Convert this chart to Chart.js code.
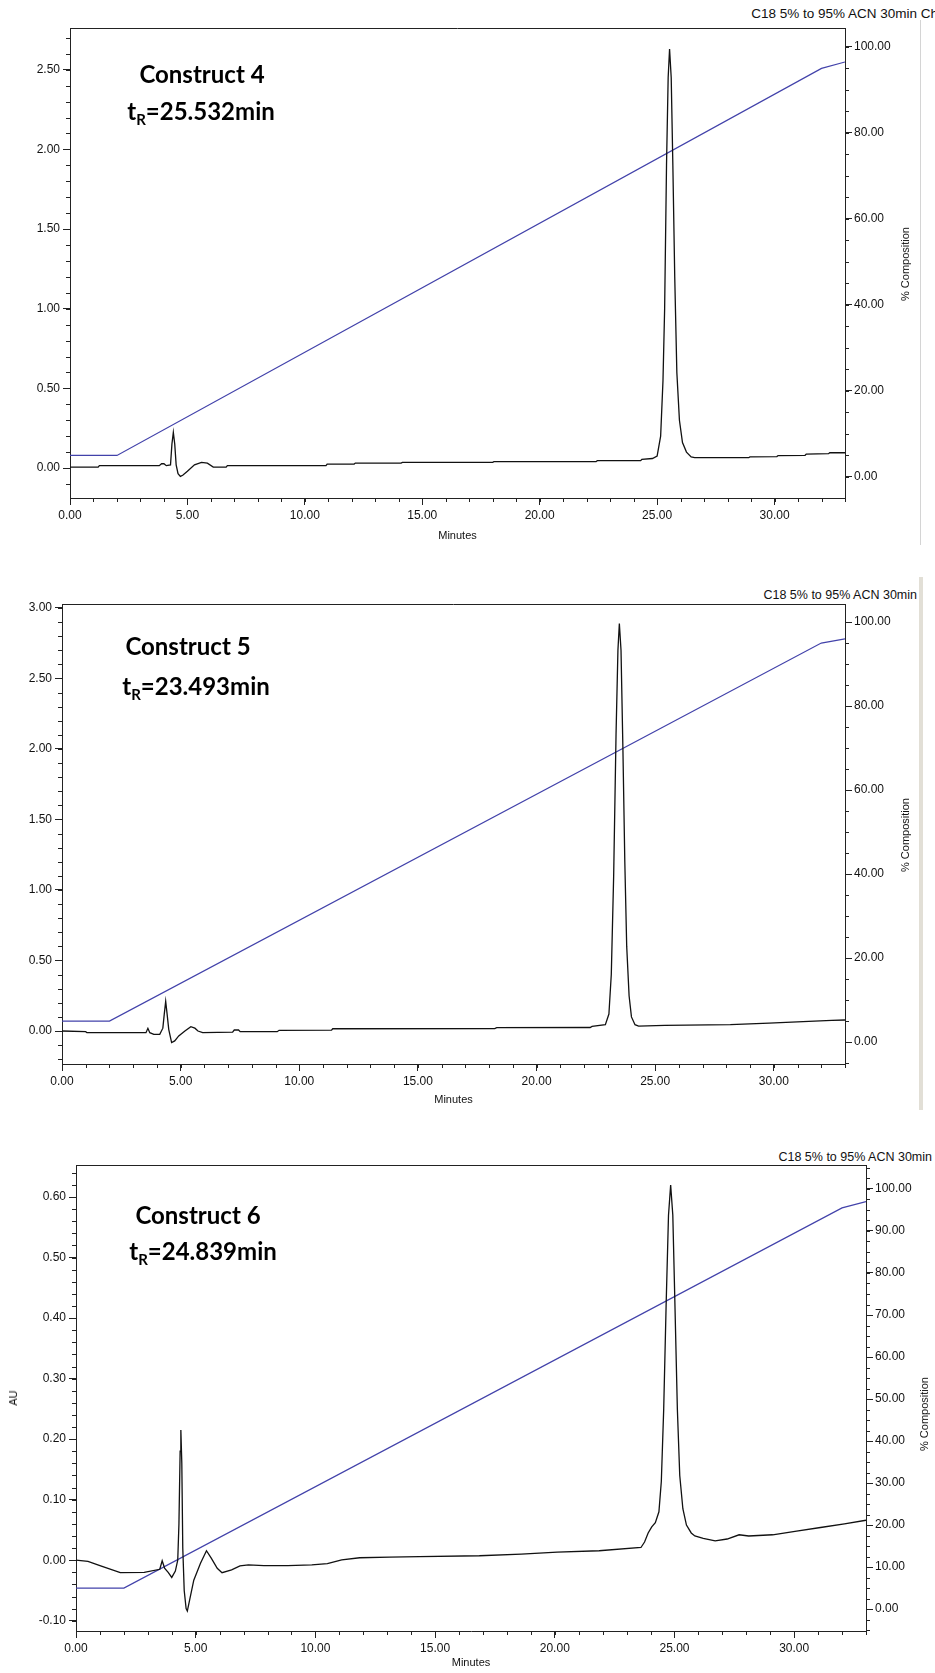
<!DOCTYPE html>
<html>
<head>
<meta charset="utf-8">
<title>HPLC traces - Constructs 4, 5, 6</title>
<script src="https://cdn.jsdelivr.net/npm/chart.js@4.4.1/dist/chart.umd.min.js"></script>
<style>
    body { margin: 0; background: #fff; }
    #page { position: relative; width: 935px; height: 1673px; overflow: hidden; font-family: 'Liberation Sans', Arial, sans-serif; }
    canvas { position: absolute; left: 0; }
    .hdr { position: absolute; font-size: 12.5px; line-height: 14px; color: #111; white-space: nowrap; }
    .ann { position: absolute; font: bold 24px Lato, 'Open Sans', sans-serif; color: #000; white-space: nowrap; transform: translate(-50%, -50%); }
    .ann sub { font-size: 15px; vertical-align: -5px; line-height: 0; }
    .vt { position: absolute; font-size: 11px; color: #111; white-space: nowrap; transform: translate(-50%, -50%) rotate(-90deg); }
    .edge { position: absolute; }
</style>
</head>
<body>
<div id="page">
    <div class="hdr" style="right:-3px; top:7px; font-size:13.5px">C18 5% to 95% ACN 30min Ch</div>
    <canvas id="chart-c4" width="935" height="544" style="top:0px"></canvas>
    <div class="ann" style="left:202px; top:73px">Construct 4</div>
    <div class="ann" style="left:201px; top:110px">t<sub>R</sub>=25.532min</div>
    <div class="vt" style="left:905px; top:264px">% Composition</div>
    <div class="edge" style="left:920px; top:20px; width:1px; height:525px; background:#d4d4d4"></div>

    <div class="hdr" style="right:18px; top:588px">C18 5% to 95% ACN 30min</div>
    <canvas id="chart-c5" width="935" height="548" style="top:560px"></canvas>
    <div class="ann" style="left:188px; top:645px">Construct 5</div>
    <div class="ann" style="left:196px; top:685px">t<sub>R</sub>=23.493min</div>
    <div class="vt" style="left:905px; top:835px">% Composition</div>
    <div class="edge" style="left:919px; top:577px; width:4px; height:533px; background:#e2dfd6"></div>

    <div class="hdr" style="right:3px; top:1150px">C18 5% to 95% ACN 30min</div>
    <canvas id="chart-c6" width="935" height="551" style="top:1120px"></canvas>
    <div class="ann" style="left:198px; top:1214px">Construct 6</div>
    <div class="ann" style="left:203px; top:1250px">t<sub>R</sub>=24.839min</div>
    <div class="vt" style="left:924px; top:1414px">% Composition</div>
    <div class="vt" style="left:13px; top:1398px">AU</div>
</div>

<script>
// Construct 4 trace (minutes, AU)
const c4Min = [0, 1.2, 1.25, 3.8, 3.9, 4.0, 4.1, 4.28, 4.34, 4.4, 4.46, 4.52, 4.6, 4.7, 4.8, 5.0, 5.3, 5.6, 5.85, 6.1,
    6.65, 6.7, 10.9, 10.95, 12.1, 12.15, 14.1, 14.15, 18.0, 18.05, 22.4, 22.45, 24.3, 24.35, 24.8, 25.0, 25.15, 25.25,
    25.32, 25.4, 25.47, 25.53, 25.6, 25.67, 25.75, 25.84, 25.95, 26.08, 26.25, 26.45, 26.6, 28.9, 28.95, 30.1, 30.15,
    31.3, 31.35, 32.3, 32.35, 33];
const c4AU = [0.006, 0.006, 0.015, 0.015, 0.027, 0.027, 0.015, 0.02, 0.15, 0.223, 0.15, 0.02, -0.035, -0.052, -0.045,
    -0.02, 0.02, 0.035, 0.031, 0.006, 0.006, 0.015, 0.015, 0.025, 0.025, 0.031, 0.031, 0.035, 0.036, 0.04, 0.04, 0.046,
    0.046, 0.055, 0.06, 0.075, 0.2, 0.55, 1.0, 1.9, 2.45, 2.63, 2.45, 1.9, 1.2, 0.6, 0.3, 0.16, 0.1, 0.07, 0.065, 0.065,
    0.07, 0.072, 0.078, 0.08, 0.088, 0.09, 0.096, 0.096];

// Construct 5 trace (minutes, AU)
const c5Min = [0, 1.0, 1.05, 3.54, 3.62, 3.7, 3.87, 4.12, 4.25, 4.31, 4.37, 4.43, 4.5, 4.62, 4.75, 4.92, 5.18, 5.43,
    5.6, 5.73, 5.93, 7.19, 7.26, 7.44, 7.51, 9.07, 9.15, 11.36, 11.41, 18.24, 18.32, 22.26, 22.34, 22.9, 23.05, 23.15,
    23.25, 23.35, 23.43, 23.49, 23.56, 23.64, 23.72, 23.8, 23.9, 24.0, 24.15, 24.3, 25.4, 28.17, 29.8, 31.23, 32.44, 33];
const c5AU = [0.0, -0.005, -0.012, -0.012, 0.019, -0.012, -0.024, -0.024, 0.02, 0.12, 0.21, 0.12, 0.01, -0.082, -0.07,
    -0.035, 0.0, 0.031, 0.02, 0.0, -0.012, -0.008, 0.007, 0.007, -0.005, -0.005, 0.005, 0.006, 0.016, 0.017, 0.024,
    0.025, 0.033, 0.045, 0.12, 0.4, 1.1, 2.1, 2.7, 2.89, 2.7, 2.0, 1.2, 0.6, 0.25, 0.1, 0.045, 0.035, 0.04, 0.045,
    0.056, 0.066, 0.075, 0.078];

// Construct 6 trace (minutes, AU)
const c6Min = [0, 0.5, 1.0, 1.85, 2.85, 3.5, 3.6, 3.7, 3.85, 4.0, 4.15, 4.25, 4.3, 4.35, 4.38, 4.42, 4.46, 4.52, 4.6,
    4.65, 4.75, 4.92, 5.2, 5.45, 5.65, 5.9, 6.1, 6.5, 6.85, 7.2, 7.85, 8.85, 9.85, 10.5, 11.1, 11.85, 13.1, 14.35,
    16.85, 18.6, 20.1, 21.85, 23.6, 23.75, 23.9, 24.05, 24.2, 24.35, 24.45, 24.55, 24.65, 24.75, 24.84, 24.93, 25.02,
    25.12, 25.22, 25.35, 25.5, 25.7, 25.85, 26.2, 26.7, 27.2, 27.7, 28.1, 29.1, 30.1, 31.1, 32.1, 33];
const c6AU = [0.0, -0.002, -0.009, -0.0207, -0.02, -0.015, -0.001, -0.013, -0.02, -0.0285, -0.018, 0.0, 0.06, 0.18,
    0.215, 0.16, 0.02, -0.05, -0.08, -0.084, -0.065, -0.033, -0.005, 0.0156, 0.0034, -0.0134, -0.0207, -0.016,
    -0.0095, -0.0078, -0.009, -0.009, -0.0078, -0.0056, 0.0006, 0.004, 0.005, 0.006, 0.0073, 0.01, 0.0134, 0.0156,
    0.021, 0.03, 0.045, 0.055, 0.062, 0.08, 0.13, 0.25, 0.42, 0.57, 0.62, 0.57, 0.42, 0.25, 0.14, 0.085, 0.058, 0.045,
    0.04, 0.036, 0.032, 0.035, 0.042, 0.04, 0.042, 0.048, 0.054, 0.06, 0.066];

// Gradient programme (% ACN)
const gradMin = [0, 2, 32, 33];
const c4Comp = [5, 5, 95, 96.5];
const c5Comp = [5, 5, 95, 96];
const c6Comp = [5, 5, 95.5, 97];

// Tick labels
const minuteTicks = [0, 5, 10, 15, 20, 25, 30];
const c4AUTicks = [0, 0.5, 1.0, 1.5, 2.0, 2.5];
const c5AUTicks = [0, 0.5, 1.0, 1.5, 2.0, 2.5, 3.0];
const c6AUTicks = [-0.1, 0, 0.1, 0.2, 0.3, 0.4, 0.5, 0.6];
const compTicks20 = [0, 20, 40, 60, 80, 100];
const compTicks10 = [0, 10, 20, 30, 40, 50, 60, 70, 80, 90, 100];

const AXIS = '#222';
const TRACE = '#111';
const GRADIENT = 'rgb(66, 66, 170)';

function toPoints(xs, ys) {
    return xs.map(function(x, i) { return { x: x, y: ys[i] }; });
}

// small unlabeled ticks between the labelled ones
const minorTicks = {
    id: 'minorTicks',
    afterDraw(chart, args, opts) {
        const ctx = chart.ctx;
        const len = opts.len || 4;
        ctx.save();
        ctx.strokeStyle = AXIS;
        ctx.lineWidth = 1;
        ctx.beginPath();
        ['x', 'y', 'y2'].forEach(function(id) {
            const scale = chart.scales[id];
            const step = opts[id];
            if (!scale || !step) return;
            const first = Math.ceil(scale.min / step - 1e-6);
            const last = Math.floor(scale.max / step + 1e-6);
            for (let k = first; k <= last; k++) {
                const px = Math.round(scale.getPixelForValue(k * step)) + 0.5;
                if (id === 'x') {
                    ctx.moveTo(px, scale.top);
                    ctx.lineTo(px, scale.top + len);
                } else if (id === 'y') {
                    ctx.moveTo(scale.right - len, px);
                    ctx.lineTo(scale.right, px);
                } else {
                    ctx.moveTo(scale.left, px);
                    ctx.lineTo(scale.left + len, px);
                }
            }
        });
        ctx.stroke();
        ctx.restore();
    }
};

// closes the plot box along the top
const topFrame = {
    id: 'topFrame',
    afterDraw(chart) {
        const a = chart.chartArea;
        const ctx = chart.ctx;
        const y = Math.round(a.top) + 0.5;
        ctx.save();
        ctx.strokeStyle = AXIS;
        ctx.lineWidth = 1;
        ctx.beginPath();
        ctx.moveTo(a.left, y);
        ctx.lineTo(a.right, y);
        ctx.stroke();
        ctx.restore();
    }
};

function fixedTicks(values) {
    return function(scale) {
        scale.ticks = values.map(function(v) { return { value: v }; });
    };
}

function buildPanel(p) {
    const canvas = document.getElementById(p.id);
    const box = p.box;
    const tickFont = { family: "'Liberation Sans', Arial, sans-serif", size: 12 };
    const grid = { display: true, drawOnChartArea: false, drawTicks: true, tickLength: 7, tickColor: AXIS };
    const border = { display: true, color: AXIS, width: 1 };

    return new Chart(canvas, {
        type: 'line',
        data: {
            datasets: [
                {
                    label: 'AU',
                    data: toPoints(p.min, p.au),
                    yAxisID: 'y',
                    borderColor: TRACE,
                    borderWidth: 1.3,
                    pointRadius: 0,
                    tension: 0
                },
                {
                    label: '% Composition',
                    data: toPoints(gradMin, p.comp),
                    yAxisID: 'y2',
                    borderColor: GRADIENT,
                    borderWidth: 1.2,
                    pointRadius: 0,
                    tension: 0
                }
            ]
        },
        options: {
            responsive: false,
            animation: false,
            events: [],
            layout: { padding: { top: box.top, left: 0, right: 0, bottom: 0 } },
            plugins: {
                legend: { display: false },
                tooltip: { enabled: false },
                minorTicks: { x: 1, y: p.yMinor, y2: p.y2Minor, len: 4 }
            },
            scales: {
                x: {
                    type: 'linear',
                    position: 'bottom',
                    min: 0,
                    max: 33,
                    afterBuildTicks: fixedTicks(minuteTicks),
                    afterFit: function(scale) { scale.height = canvas.height - box.bottom; },
                    ticks: {
                        color: '#111',
                        font: tickFont,
                        maxRotation: 0,
                        autoSkip: false,
                        padding: 3,
                        callback: function(value) { return value.toFixed(2); }
                    },
                    grid: grid,
                    border: border,
                    title: {
                        display: true,
                        text: 'Minutes',
                        color: '#111',
                        font: { family: "'Liberation Sans', Arial, sans-serif", size: 11 },
                        padding: { top: 0, bottom: 1 }
                    }
                },
                y: {
                    type: 'linear',
                    position: 'left',
                    min: p.yMin,
                    max: p.yMax,
                    afterBuildTicks: fixedTicks(p.yTicks),
                    afterFit: function(scale) { scale.width = box.left; },
                    ticks: {
                        color: '#111',
                        font: tickFont,
                        autoSkip: false,
                        padding: 3,
                        callback: function(value) { return value.toFixed(2); }
                    },
                    grid: grid,
                    border: border
                },
                y2: {
                    type: 'linear',
                    position: 'right',
                    min: p.y2Min,
                    max: p.y2Max,
                    afterBuildTicks: fixedTicks(p.y2Ticks),
                    afterFit: function(scale) { scale.width = canvas.width - box.right; },
                    ticks: {
                        color: '#111',
                        font: tickFont,
                        autoSkip: false,
                        padding: 2,
                        callback: function(value) { return value.toFixed(2); }
                    },
                    grid: grid,
                    border: border
                }
            }
        },
        plugins: [minorTicks, topFrame]
    });
}

document.addEventListener('DOMContentLoaded', function() {

    // Construct 4
    buildPanel({
        id: 'chart-c4',
        min: c4Min, au: c4AU, comp: c4Comp,
        yMin: -0.188, yMax: 2.762, yTicks: c4AUTicks, yMinor: 0.1,
        y2Min: -4.9, y2Max: 104.4, y2Ticks: compTicks20, y2Minor: 5,
        box: { left: 70, right: 845, top: 28, bottom: 498 }
    });

    // Construct 5
    buildPanel({
        id: 'chart-c5',
        min: c5Min, au: c5AU, comp: c5Comp,
        yMin: -0.234, yMax: 3.028, yTicks: c5AUTicks, yMinor: 0.1,
        y2Min: -5.2, y2Max: 104.3, y2Ticks: compTicks20, y2Minor: 5,
        box: { left: 62, right: 845, top: 44, bottom: 504 }
    });

    // Construct 6
    buildPanel({
        id: 'chart-c6',
        min: c6Min, au: c6AU, comp: c6Comp,
        yMin: -0.117, yMax: 0.653, yTicks: c6AUTicks, yMinor: 0.02,
        y2Min: -5.2, y2Max: 105.7, y2Ticks: compTicks10, y2Minor: 2.5,
        box: { left: 76, right: 866, top: 45, bottom: 511 }
    });
});
</script>
</body>
</html>
